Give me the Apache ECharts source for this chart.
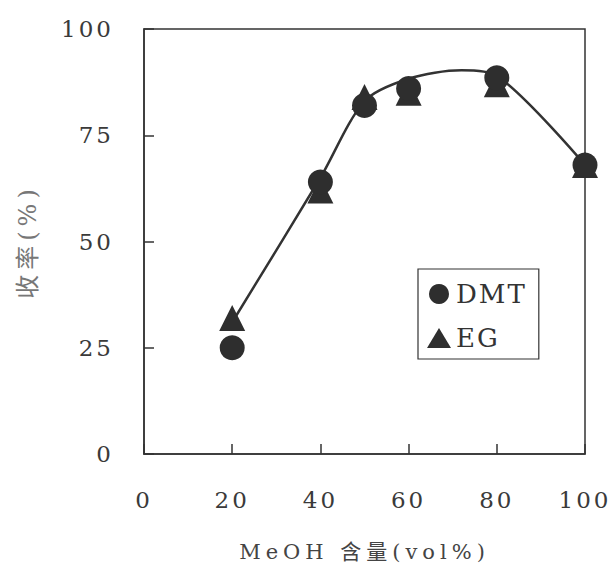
<!DOCTYPE html>
<html><head><meta charset="utf-8">
<script src="https://cdn.jsdelivr.net/npm/echarts@6/dist/echarts.min.js"></script>
<style>
html,body{margin:0;padding:0;background:#fff}
#c{width:613px;height:567px}
#c text{font-family:"DejaVu Serif","Noto Sans CJK SC",serif !important}
</style>
</head><body><div id="c"></div>
<script>
// Data
const methanolContent = [20, 40, 50, 60, 80, 100];       // MeOH 含量 (vol%)
const dmtYield = [25, 64, 82, 86, 88.5, 68];             // DMT 收率 (%)
const egYield  = [32, 62, 84, 85, 87, 68];               // EG 收率 (%)
const curveX = [20, 40, 50, 60, 72, 80, 100];            // trend curve
const curveY = [31, 65, 83, 88.3, 90.3, 89, 68];
const seriesNames = ['DMT', 'EG'];
const xTitle = 'MeOH 含量(vol%)';
const yTitle = '收率(%)';

const zip = (a, b) => a.map((v, i) => [v, b[i]]);
const ink = '#333';
const serif = 'DejaVu Serif, serif';
// letter spacing per font size (px)
const spacingBySize = {23: 3, 26: 2, 21: 5, 24: 5};

const chart = echarts.init(document.getElementById('c'), null, {renderer: 'svg'});
chart.setOption({
  animation: false,
  backgroundColor: '#fff',
  grid: {left: 144, right: 28, top: 29, bottom: 111, show: true, borderColor: ink, borderWidth: 1.5, backgroundColor: 'transparent'},
  xAxis: {
    type: 'value', min: 0, max: 100, interval: 20,
    name: xTitle, nameLocation: 'middle', nameGap: 87,
    nameTextStyle: {fontSize: 21, color: '#444', fontFamily: serif},
    axisLine: {lineStyle: {color: ink, width: 1.5}},
    axisTick: {inside: true, length: 10, lineStyle: {color: ink, width: 1.5}},
    axisLabel: {fontSize: 23, color: '#3a3a3a', fontFamily: serif, margin: 34},
    splitLine: {show: false}
  },
  yAxis: {
    type: 'value', min: 0, max: 100, interval: 25,
    name: yTitle, nameLocation: 'middle', nameGap: 104,
    nameTextStyle: {fontSize: 24, color: '#777', fontFamily: serif},
    axisLine: {lineStyle: {color: ink, width: 1.5}},
    axisTick: {inside: true, length: 10, lineStyle: {color: ink, width: 1.5}},
    axisLabel: {fontSize: 23, color: '#3a3a3a', fontFamily: serif, margin: 30},
    splitLine: {show: false}
  },
  legend: {
    data: [{name: seriesNames[0], icon: 'circle'}, {name: seriesNames[1], icon: 'triangle'}],
    orient: 'vertical', left: 418, top: 269,
    padding: [12, 18, 8, 9], itemGap: 18, itemWidth: 24, itemHeight: 20,
    borderColor: ink, borderWidth: 1.2, backgroundColor: '#fff',
    textStyle: {fontSize: 26, color: '#333', fontFamily: serif}
  },
  series: [
    {type: 'line', name: 'curve', data: zip(curveX, curveY), smooth: 0.3, showSymbol: false,
     lineStyle: {color: ink, width: 2.5}, z: 1, silent: true},
    {type: 'scatter', name: seriesNames[1], data: zip(methanolContent, egYield), symbol: 'triangle', symbolSize: 26,
     itemStyle: {color: '#2e2e2e', opacity: 1}, z: 2},
    {type: 'scatter', name: seriesNames[0], data: zip(methanolContent, dmtYield), symbol: 'circle', symbolSize: 25,
     itemStyle: {color: '#2e2e2e', opacity: 1}, z: 3}
  ]
});

function applySpacing() {
  document.querySelectorAll('#c text').forEach(el => {
    const fs = Math.round(parseFloat(getComputedStyle(el).fontSize));
    const s = spacingBySize[fs];
    if (s !== undefined) el.style.letterSpacing = s + 'px';
  });
}
chart.on('finished', applySpacing);
setTimeout(applySpacing, 50);
setTimeout(applySpacing, 300);
</script>
</body></html>
